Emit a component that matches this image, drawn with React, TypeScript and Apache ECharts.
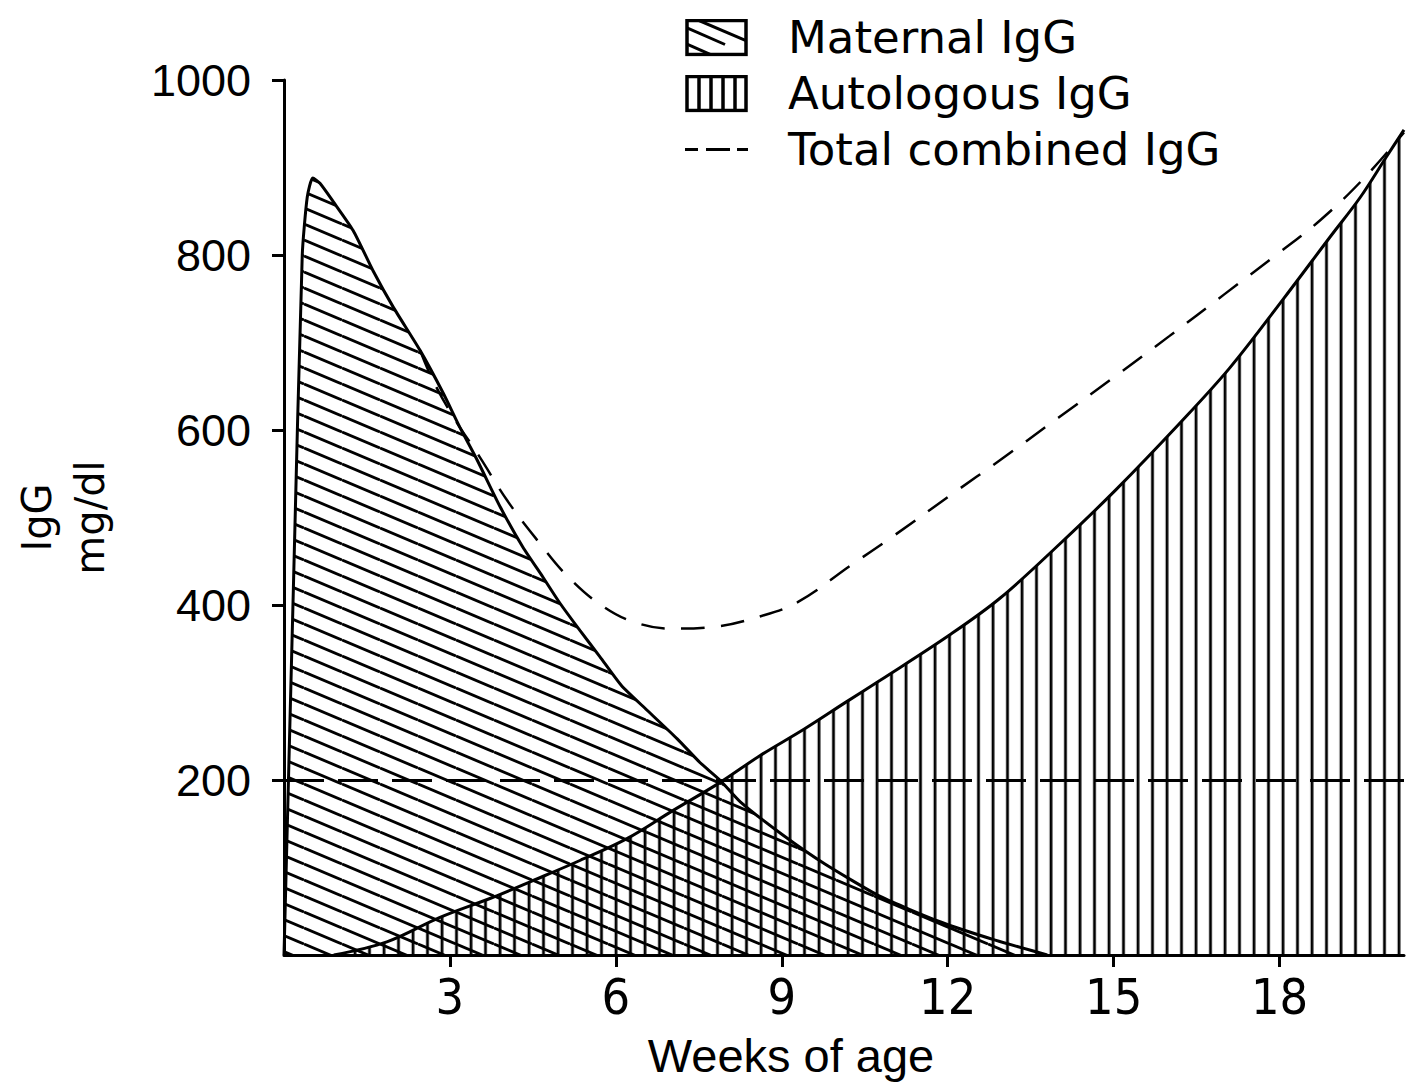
import React, { useEffect, useRef } from "react";
import * as echarts from "echarts";

// ---- data ----
const maternalWeeks = [0, 0.17, 0.33, 0.42, 0.52, 0.65, 0.89, 1.25, 1.61, 1.97, 2.46, 2.88, 3.18, 3.49, 3.91, 4.32, 4.68, 4.99, 5.35, 5.71, 6.1, 6.56, 7.11, 7.52, 7.88, 8.25, 9.0, 9.78, 10.78, 11.86, 12.86, 13.8];
const maternalIgG = [0, 420, 800, 866, 888, 882, 861, 828, 782, 741, 691, 642, 603, 566, 512, 466, 432, 402, 371, 341, 308, 280, 247, 220, 200, 175, 138, 104, 67, 38, 17, 0];

const autologousWeeks = [0.9, 1.86, 2.82, 3.78, 4.5, 5.35, 6.2, 7.03, 7.88, 8.61, 9.4, 10.16, 10.78, 12.04, 12.95, 14.03, 15.03, 16.2, 17.1, 18.06, 18.93, 19.46, 19.93, 20.25];
const autologousIgG = [0, 15, 43, 66, 85, 108, 133, 165, 197, 228, 258, 289, 314, 366, 408, 470, 531, 608, 671, 749, 822, 866, 912, 943];

const totalWeeks = [2.46, 2.69, 3.06, 3.54, 4.03, 4.58, 5.14, 5.8, 6.4, 7.02, 7.76, 8.55, 9.28, 10.24, 11.0, 12.04, 13.0, 14.0, 15.0, 16.0, 17.0, 18.0, 18.74, 19.5, 20.25];
const totalIgG = [691, 657, 615, 569, 520, 474, 432, 397, 379, 373, 375, 386, 403, 445, 478, 525, 568, 614, 660, 707, 755, 803, 840, 886, 940];

const xTicks = [3, 6, 9, 12, 15, 18];
const yTicks = [200, 400, 600, 800, 1000];
const referenceLevel = 200;
const legendNames = ["Maternal IgG", "Autologous IgG", "Total combined IgG"];

const zip = (xs: number[], ys: number[]) => xs.map((x, i) => [x, ys[i]]);
const svgUrl = (svg: string) => "data:image/svg+xml;charset=utf-8," + encodeURIComponent(svg);

const diagTile = svgUrl(
  "<svg xmlns='http://www.w3.org/2000/svg' width='38' height='16'><g stroke='#000' stroke-width='2.9'>" +
    "<line x1='0' y1='-16' x2='38' y2='0'/><line x1='0' y1='0' x2='38' y2='16'/><line x1='0' y1='16' x2='38' y2='32'/></g></svg>"
);
const vertTile = svgUrl(
  "<svg xmlns='http://www.w3.org/2000/svg' width='14.5' height='10'><line x1='7' y1='0' x2='7' y2='10' stroke='#000' stroke-width='2.8'/></svg>"
);

const maternalIcon = svgUrl(
  "<svg xmlns='http://www.w3.org/2000/svg' width='63' height='38'><defs><clipPath id='c'><rect x='2' y='2' width='59' height='34'/></clipPath></defs>" +
    "<g clip-path='url(#c)' stroke='#000' stroke-width='3'><line x1='-10' y1='4' x2='40' y2='26'/><line x1='14' y1='2' x2='70' y2='26'/><line x1='-20' y1='16' x2='30' y2='38'/></g>" +
    "<rect x='2' y='2' width='59' height='34' fill='none' stroke='#000' stroke-width='3.5'/></svg>"
);
const autologousIcon = svgUrl(
  "<svg xmlns='http://www.w3.org/2000/svg' width='63' height='38'><g stroke='#000' stroke-width='3.5'>" +
    "<line x1='14' y1='2' x2='14' y2='36'/><line x1='26' y1='2' x2='26' y2='36'/><line x1='38' y1='2' x2='38' y2='36'/><line x1='50' y1='2' x2='50' y2='36'/></g>" +
    "<rect x='2' y='2' width='59' height='34' fill='none' stroke='#000' stroke-width='3.5'/></svg>"
);
const dashIcon = svgUrl(
  "<svg xmlns='http://www.w3.org/2000/svg' width='63' height='38'><g stroke='#000' stroke-width='3'>" +
    "<line x1='0' y1='19' x2='13' y2='19'/><line x1='21' y1='19' x2='45' y2='19'/><line x1='52' y1='19' x2='63' y2='19'/></g></svg>"
);

export default function App() {
  const ref = useRef<HTMLDivElement>(null);
  useEffect(() => {
    if (!ref.current) return;
    const chart = echarts.init(ref.current, undefined, { renderer: "svg" });
    const black = "#000";
    chart.setOption({
      animation: false,
      backgroundColor: "#fff",
      grid: { left: 284, right: 4, top: 80, bottom: 129 },
      legend: {
        orient: "vertical",
        left: 680,
        top: 10,
        itemWidth: 63,
        itemHeight: 38,
        itemGap: 11,
        selectedMode: false,
        textStyle: { fontSize: 45, fontFamily: "DejaVu Sans", color: black, padding: [0, 0, 0, 35], lineHeight: 40 },
        data: [
          { name: legendNames[0], icon: "image://" + maternalIcon },
          { name: legendNames[1], icon: "image://" + autologousIcon },
          { name: legendNames[2], icon: "image://" + dashIcon },
        ],
      },
      xAxis: {
        type: "value",
        min: 0,
        max: 20.25,
        axisLine: { show: true, lineStyle: { color: black, width: 3 } },
        axisTick: { show: true, customValues: xTicks, length: 12, lineStyle: { color: black, width: 3 } },
        axisLabel: {
          customValues: xTicks,
          margin: 17,
          fontSize: 50,
          fontFamily: "'Liberation Sans Narrow', 'DejaVu Sans Condensed', 'Liberation Sans'",
          color: black,
        },
        splitLine: { show: false },
      },
      yAxis: {
        type: "value",
        min: 0,
        max: 1000,
        offset: 11,
        name: "IgG\nmg/dl",
        nameLocation: "middle",
        nameRotate: 90,
        nameGap: 157,
        nameTextStyle: { fontSize: 40, fontFamily: "DejaVu Sans", color: black, lineHeight: 53 },
        axisLine: { show: true, lineStyle: { color: black, width: 3 } },
        axisTick: { show: true, customValues: yTicks, length: 12, lineStyle: { color: black, width: 3 } },
        axisLabel: {
          customValues: yTicks,
          margin: 22,
          fontSize: 45,
          fontFamily: "Liberation Sans",
          color: black,
          formatter: (v: number) => String(v),
        },
        splitLine: { show: false },
      },
      graphic: [
        {
          type: "text",
          x: 791,
          y: 1055,
          style: {
            text: "Weeks of age",
            fontSize: 47,
            fontFamily: "Liberation Sans",
            fill: black,
            textAlign: "center",
            textVerticalAlign: "middle",
            align: "center",
            verticalAlign: "middle",
          },
        },
      ],
      series: [
        {
          name: legendNames[1],
          type: "line",
          data: zip(autologousWeeks, autologousIgG),
          showSymbol: false,
          smooth: 0.35,
          lineStyle: { color: black, width: 3 },
          itemStyle: { color: black },
          areaStyle: { color: { image: vertTile, repeat: "repeat", imageWidth: 14.5, imageHeight: 10 }, opacity: 1 },
          z: 2,
        },
        {
          name: legendNames[0],
          type: "line",
          data: zip(maternalWeeks, maternalIgG),
          showSymbol: false,
          smooth: 0.2,
          lineStyle: { color: black, width: 3 },
          itemStyle: { color: black },
          areaStyle: { color: { image: diagTile, repeat: "repeat", imageWidth: 38, imageHeight: 16 }, opacity: 1 },
          z: 3,
        },
        {
          name: legendNames[2],
          type: "line",
          data: zip(totalWeeks, totalIgG),
          showSymbol: false,
          smooth: 0.4,
          lineStyle: { color: black, width: 2.5, type: [24, 16] },
          itemStyle: { color: black },
          z: 4,
          markLine: {
            silent: true,
            symbol: ["none", "none"],
            label: { show: false },
            lineStyle: { color: black, width: 3, type: [40, 14] },
            data: [{ yAxis: referenceLevel }],
          },
        },
      ],
    });
    return () => chart.dispose();
  }, []);
  return (
    <div
      ref={ref}
      style={{ position: "absolute", left: 0, top: 0, width: 1408, height: 1084, background: "#fff" }}
    />
  );
}
